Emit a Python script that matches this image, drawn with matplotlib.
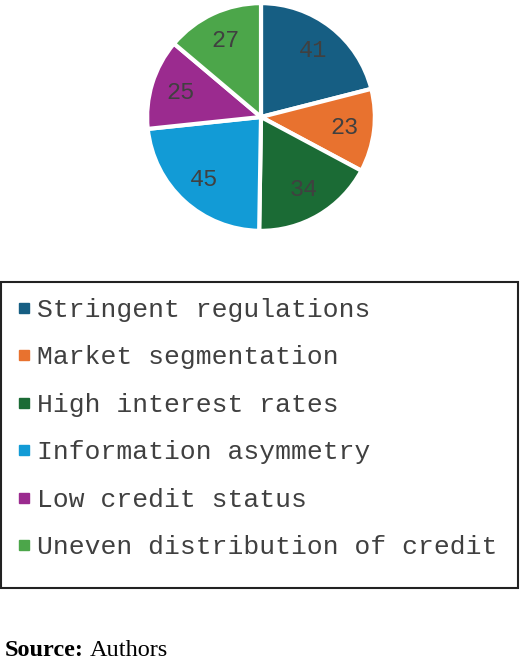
import matplotlib.pyplot as plt
from matplotlib.lines import Line2D
from matplotlib.patches import Rectangle

categories = ['Stringent regulations', 'Market segmentation', 'High interest rates',
              'Information asymmetry', 'Low credit status', 'Uneven distribution of credit']
values = [41, 23, 34, 45, 25, 27]
colors = ['#165e83', '#e8722f', '#1b6b35', '#129bd6', '#9b2b8f', '#4ca64a']

total = sum(values)

fig = plt.figure(figsize=(5.2, 6.66), dpi=100)

# pie
ax = fig.add_axes([146/520, 1 - 232/666, 230/520, 230/666])
wedges, texts, autotexts = ax.pie(values, colors=colors, startangle=90, counterclock=False,
                                  autopct=lambda p: f'{p * total / 100:.0f}', pctdistance=0.74,
                                  wedgeprops=dict(edgecolor='white', linewidth=3),
                                  textprops=dict(family='Liberation Mono', size=17, color='#404040'))
ax.set_xlim(-1.01, 1.01)
ax.set_ylim(-1.01, 1.01)
ax.set_aspect('equal')

# legend box
fig.patches.append(Rectangle((1/520, 1 - 588/666), 517/520, 306/666, transform=fig.transFigure,
                             fill=False, edgecolor='#222222', linewidth=1.5))

handles = [Line2D([], [], marker='s', linestyle='none', markersize=6.5, color=c) for c in colors]
leg = fig.legend(handles, categories, loc='upper left', bbox_to_anchor=(16/520, 1 - 298/666),
                 frameon=False, prop={'family': 'Liberation Mono', 'size': 19},
                 labelcolor='#404040', handlelength=0.6, handletextpad=0.19, labelspacing=0.89,
                 borderpad=0, borderaxespad=0)

# source
fig.text(5/520, 1 - 651/666, 'Source:', fontfamily='Liberation Serif', fontweight='bold',
         fontsize=17.5, va='center', ha='left')
fig.text(90/520, 1 - 651/666, 'Authors', fontfamily='Liberation Serif',
         fontsize=17.5, va='center', ha='left')

fig.savefig('out.png', dpi=100)
